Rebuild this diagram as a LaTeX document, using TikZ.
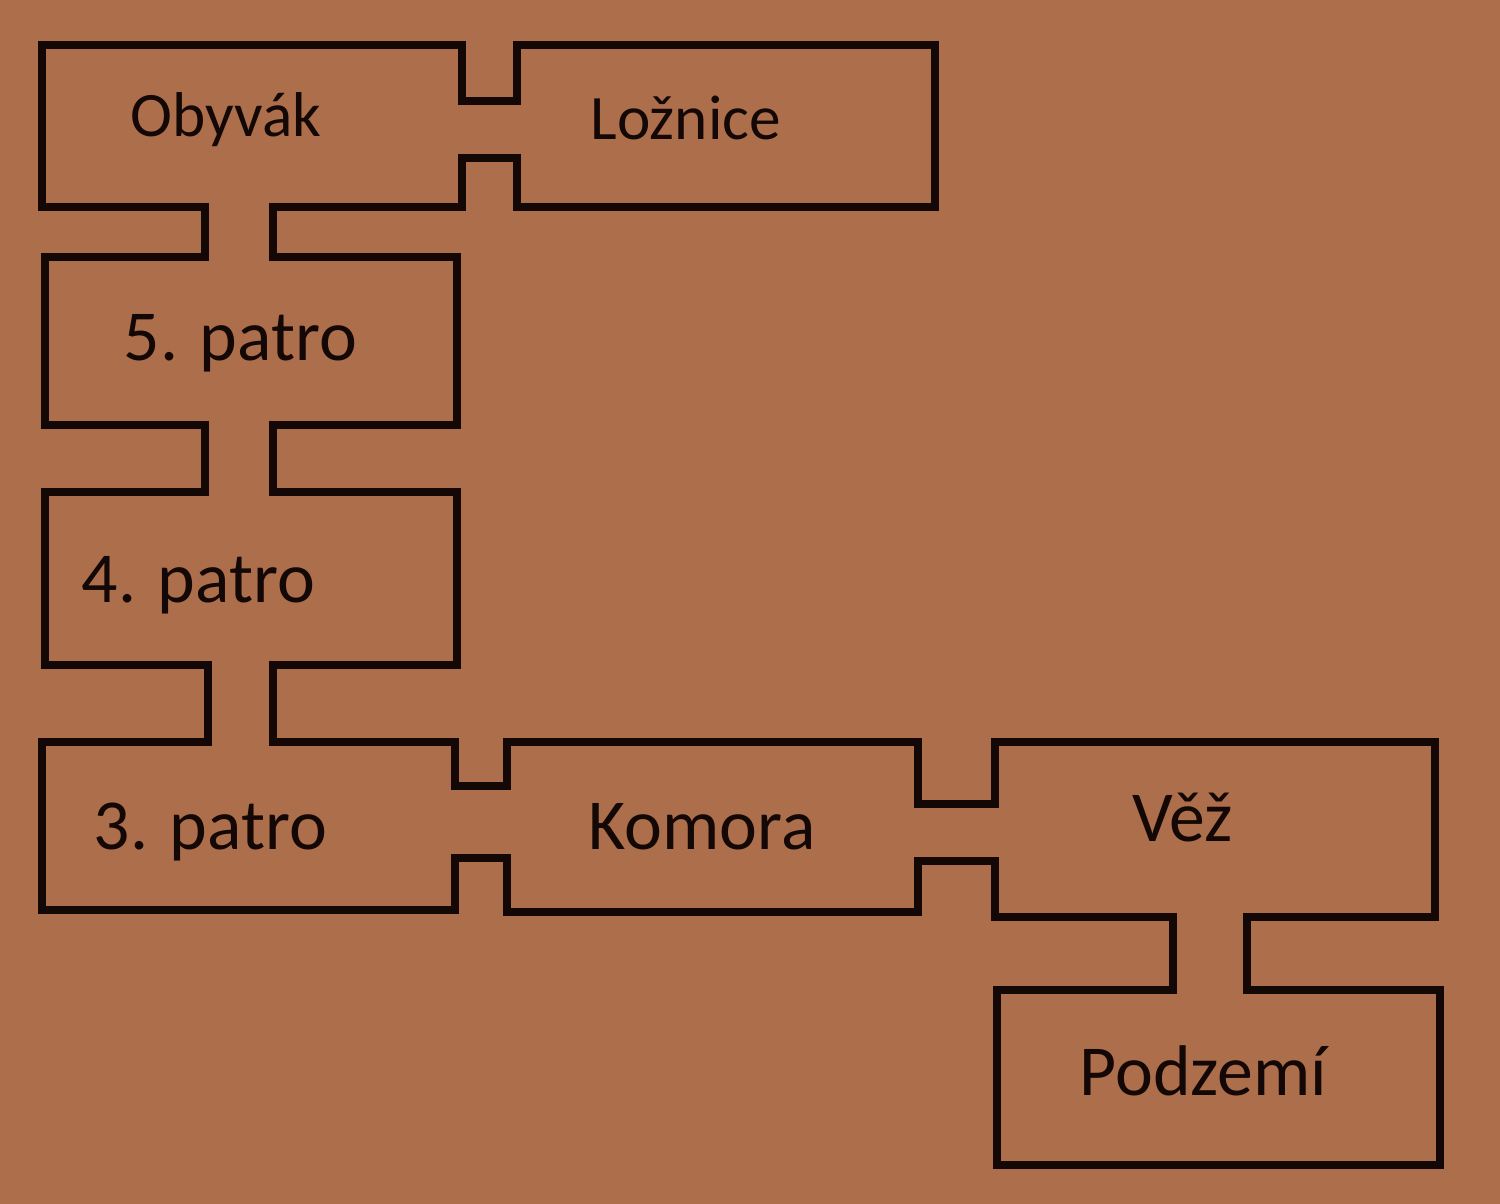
\documentclass[tikz,border=0pt]{standalone}
\usepackage{fontspec}
\setmainfont{Carlito}
\usepackage{xcolor}
\usepackage{tikz}
\usetikzlibrary{positioning}
\definecolor{floorbg}{RGB}{173,110,76}
\definecolor{wallcol}{RGB}{20,8,6}

\begin{document}
\begin{tikzpicture}[x=0.01cm,y=-0.01cm,
    wall/.style={draw=wallcol,line width=2.2pt,line join=miter},
    roomname/.style={anchor=base west,inner sep=0pt,text=wallcol,font=\fontsize{20.4}{22}\selectfont},
    smallname/.style={roomname,font=\fontsize{18}{20}\selectfont}]
  \fill[floorbg] (0,0) rectangle (1500,1204);
  \useasboundingbox (0,0) rectangle (1500,1204);
  % outline of all rooms and passages
  \draw[wall] (42,45) -- (462,45) -- (462,101) -- (517,101) -- (517,45) -- (935,45)
    -- (935,207) -- (517,207) -- (517,158) -- (462,158) -- (462,207) -- (273,207)
    -- (273,257) -- (457,257) -- (457,425) -- (273,425) -- (273,492) -- (457,492)
    -- (457,665) -- (273,665) -- (273,742) -- (455,742) -- (455,786) -- (507,786)
    -- (507,742) -- (918,742) -- (918,804) -- (995,804) -- (995,742) -- (1435,742)
    -- (1435,917) -- (1247,917) -- (1247,990) -- (1440,990) -- (1440,1165)
    -- (997,1165) -- (997,990) -- (1173,990) -- (1173,917) -- (995,917)
    -- (995,861) -- (918,861) -- (918,912) -- (507,912) -- (507,858) -- (455,858)
    -- (455,910) -- (42,910) -- (42,742) -- (208,742) -- (208,665) -- (45,665)
    -- (45,492) -- (205,492) -- (205,425) -- (45,425) -- (45,257) -- (205,257)
    -- (205,207) -- (42,207) -- cycle;
  \node[smallname] (obyvak) at (130,137) {Obyvák};
  \node[smallname] (loznice) at (590,140) {Ložnice};
  \node[roomname] (patro5) at (123,361) {5. patro};
  \node[roomname] (patro4) at (81,603) {4. patro};
  \node[roomname] (patro3) at (93,850) {3. patro};
  \node[roomname] (komora) at (588,850) {Komora};
  \node[roomname] (vez) at (1132,842) {Věž};
  \node[roomname] (podzemi) at (1079,1095) {Podzemí};
\end{tikzpicture}
\end{document}
